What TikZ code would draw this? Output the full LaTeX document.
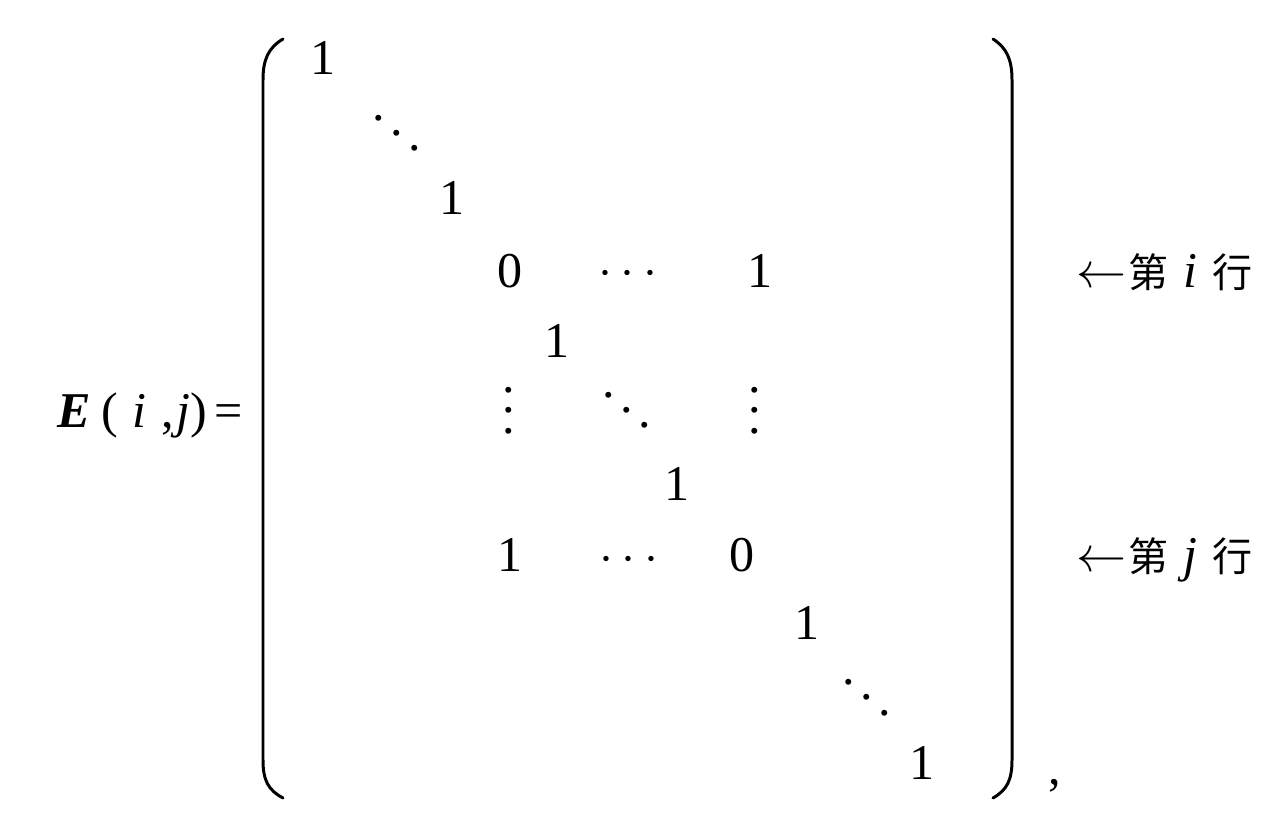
\documentclass[tikz,border=0pt]{standalone}
\usepackage{amsmath}
\usepackage{fontspec}
\setmainfont{Liberation Serif}[
    UprightFont=*, BoldFont=* Bold, ItalicFont=* Italic, BoldItalicFont=* Bold Italic]
\newfontfamily\cjk{Noto Sans CJK SC}
\usepackage{tikz}

\begin{document}
\begin{tikzpicture}[
    x=0.02cm, y=-0.02cm,
    entry/.style={inner sep=0pt, scale=2.85, anchor=base},
    label/.style={inner sep=0pt, scale=2.85, anchor=base west},
    paren/.style={line width=1.7pt, line cap=round}
]
\useasboundingbox (0,0) rectangle (1278,818);

\node[entry, anchor=base east] (lhs) at (244,427) {\textbf{\textit{E}}\hspace{2pt}(\hspace{3pt}\textit{i}\hspace{3pt},\hspace{0.5pt}\textit{j})\hspace{1.5pt}=};

% diagonal ones and the two swapped rows
\node[entry] (a11) at (323,74) {1};
\node[entry] (dd1) at (397,156) {$\ddots$};
\node[entry] (a22) at (452,214) {1};
\node[entry] (aii) at (510,287) {0};
\node[entry] (ci) at (632,285) {$\cdots$};
\node[entry] (aij) at (760,287) {1};
\node[entry] (a33) at (557,357) {1};
\node[entry] (vl) at (509,433) {$\vdots$};
\node[entry] (dd2) at (627,433) {$\ddots$};
\node[entry] (vr) at (755,433) {$\vdots$};
\node[entry] (a44) at (677,500) {1};
\node[entry] (aji) at (510,571) {1};
\node[entry] (cj) at (633,571) {$\cdots$};
\node[entry] (ajj) at (742,571) {0};
\node[entry] (a55) at (807,639) {1};
\node[entry] (dd3) at (867,720) {$\ddots$};
\node[entry] (ann) at (922,779) {1};
\node[entry] (comma) at (1055,784) {,};

% row labels
\node[label] (rowi) at (1075,287) {$\leftarrow$\hspace{0.5pt}{\cjk\fontsize{8}{10}\selectfont 第}\hspace{3pt}\textit{i}\hspace{3pt}{\cjk\fontsize{8}{10}\selectfont 行}};
\node[label] (rowj) at (1075,571) {$\leftarrow$\hspace{0.5pt}{\cjk\fontsize{8}{10}\selectfont 第}\hspace{3pt}\textit{j}\hspace{3pt}{\cjk\fontsize{8}{10}\selectfont 行}};

% brackets
\draw[paren] (283,39) .. controls (268,48) and (263,60) .. (263,80) -- (263,760) .. controls (263,780) and (268,790) .. (283,798);
\draw[paren] (993,39) .. controls (1007,48) and (1012,60) .. (1012,80) -- (1012,760) .. controls (1012,780) and (1007,790) .. (993,798);

\end{tikzpicture}
\end{document}
